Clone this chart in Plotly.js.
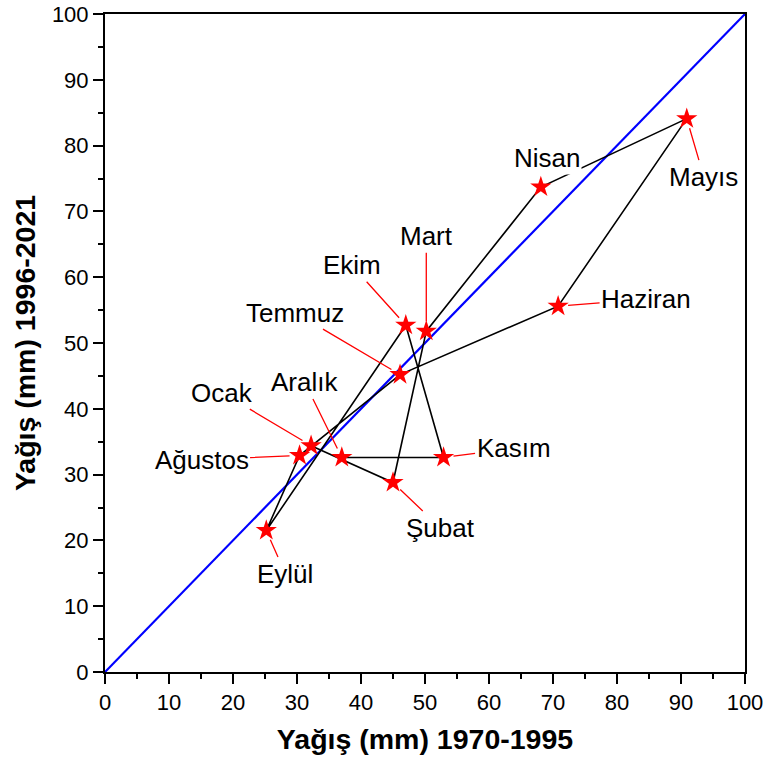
<!DOCTYPE html>
<html>
<head>
<meta charset="utf-8">
<script src="https://cdn.plot.ly/plotly-3.0.1.min.js"></script>
<style>html,body{margin:0;padding:0;background:#fff;}#chart{width:765px;height:762px;}</style>
</head>
<body>
<div id="chart"></div>
<script>
// Months (Turkish)
const months = ["Ocak","Şubat","Mart","Nisan","Mayıs","Haziran","Temmuz","Ağustos","Eylül","Ekim","Kasım","Aralık"];
// Precipitation (mm) 1970-1995
const rain1970_1995 = [32.2, 45.0, 50.2, 68.1, 90.9, 70.8, 46.1, 30.4, 25.2, 47.0, 52.9, 37.0];
// Precipitation (mm) 1996-2021
const rain1996_2021 = [34.4, 28.8, 51.8, 73.7, 84.1, 55.6, 45.2, 32.9, 21.5, 52.7, 32.6, 32.6];
// 1:1 reference line
const refLine = [0, 100];
const tickVals = [0,10,20,30,40,50,60,70,80,90,100];

// label placement (pixel offsets from the point), layout only
const labelDX = [-89, 47, 0, 6, 17, 88, -105, -98, 19, -54, 70, -37];
const labelDY = [-53, 45, -95, -29, 58, -7, -62, 4, 43, -60, -9, -75];
const labelLeader = [true,true,true,false,true,true,true,true,true,true,true,true];

const font = "Liberation Sans, Arial, sans-serif";

const traces = [
  {x: refLine, y: refLine, mode: "lines", line: {color: "#0000ff", width: 2.2}, hoverinfo: "skip", showlegend: false},
  {x: rain1970_1995, y: rain1996_2021, mode: "lines", line: {color: "#000000", width: 1.6}, showlegend: false, hoverinfo: "skip"},
  {x: rain1970_1995, y: rain1996_2021, mode: "markers", text: months,
   marker: {symbol: "star", size: 16, color: "#ff0000", line: {width: 0}}, showlegend: false}
];

const annotations = months.map((m, i) => ({
  x: rain1970_1995[i], y: rain1996_2021[i], xref: "x", yref: "y",
  text: m, showarrow: true, ax: labelDX[i], ay: labelDY[i],
  arrowhead: 0, arrowwidth: 1.3, standoff: 10,
  arrowcolor: labelLeader[i] ? "#ff0000" : "rgba(0,0,0,0)",
  bgcolor: labelLeader[i] ? "rgba(0,0,0,0)" : "#ffffff",
  font: {family: font, size: 26, color: "#000"}
}));

const axisCommon = {
  range: [0, 100], tickvals: tickVals, ticks: "outside", ticklen: 10, tickwidth: 2, tickcolor: "#000",
  showline: true, linecolor: "#000", linewidth: 2, mirror: true, showgrid: false, zeroline: false,
  tickfont: {family: font, size: 22, color: "#000"},
  minor: {dtick: 5, ticks: "outside", ticklen: 5, tickwidth: 2, tickcolor: "#000", showgrid: false}
};

const layout = {
  width: 765, height: 762,
  margin: {l: 105, r: 20, t: 14, b: 90},
  paper_bgcolor: "#fff", plot_bgcolor: "#fff",
  showlegend: false,
  xaxis: Object.assign({}, axisCommon, {
    title: {text: "<b>Yağış (mm) 1970-1995</b>", font: {family: font, size: 28.5, color: "#000"}, standoff: 15}
  }),
  yaxis: Object.assign({}, axisCommon, {
    title: {text: "<b>Yağış (mm) 1996-2021</b>", font: {family: font, size: 28.5, color: "#000"}, standoff: 8}
  }),
  annotations: annotations
};

Plotly.newPlot("chart", traces, layout, {displayModeBar: false, staticPlot: true});
</script>
</body>
</html>
